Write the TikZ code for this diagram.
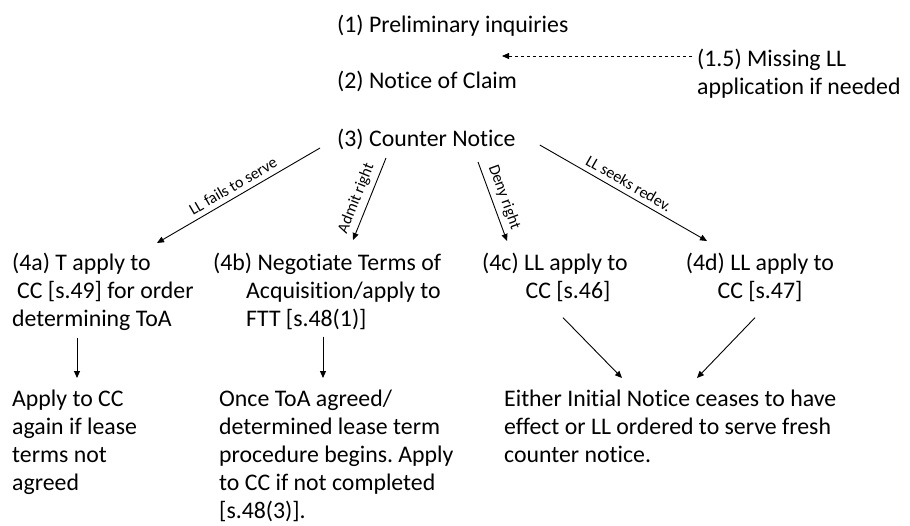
\documentclass[tikz,border=0pt]{standalone}
\usepackage{fontspec}
\setmainfont{Carlito}[Ligatures=CommonOff]
\usetikzlibrary{arrows.meta}
\frenchspacing

\tikzset{
    stage/.style={font=\fontsize{23.8}{28}\selectfont, inner sep=0pt, align=left, anchor=north west},
    edgelabel/.style={font=\fontsize{16}{19}\selectfont, sloped, above=4pt, inner sep=1pt},
    arr/.style={-{Triangle[length=7pt,width=6pt]}, line width=0.9pt}
}

\begin{document}
\begin{tikzpicture}[x=1pt,y=1pt]
            \useasboundingbox (0,0) rectangle (910,-525);

            % steps 1 to 3
            \node[stage, anchor=base west] (prelim) at (337,-32) {(1) Preliminary inquiries};
            \node[stage, anchor=base west] (claim) at (337,-88) {(2) Notice of Claim};
            \node[stage, anchor=base west] (counter) at (337,-146) {(3) Counter Notice};
            \node[stage] (missing) at (697,-46.4) {\strut(1.5) Missing LL\\application if needed};

            \coordinate (gap) at (502,-56);
            \draw[arr, line width=0.8pt, dash pattern=on 3.5pt off 2.5pt] ([xshift=-5pt,yshift=-9.6pt]missing.north west) -- (gap);

            % step 4
            \node[stage] (ta) at (12,-250.4) {\strut(4a) T apply to\\\hspace*{5pt}CC [s.49] for order\\determining ToA};
            \node[stage] (tb) at (213,-250.4) {\strut(4b) Negotiate Terms of\\\hspace*{33pt}Acquisition/apply to\\\hspace*{33pt}FTT [s.48(1)]};
            \node[stage, anchor=north, align=center] (tc) at (555,-250.4) {\strut(4c) LL apply to\\\hspace*{26pt}CC [s.46]};
            \node[stage, anchor=north, align=center] (td) at (760,-250.4) {\strut(4d) LL apply to\\CC [s.47]};

            \draw[arr] ([xshift=-17pt,yshift=-2pt]counter.base west) -- node[edgelabel] {LL fails to serve} ([xshift=145pt,yshift=7.4pt]ta.north west);
            \draw[arr] ([xshift=49pt,yshift=-12pt]counter.base west) -- node[edgelabel, pos=0.55] {Admit right} ([xshift=140pt,yshift=10.4pt]tb.north west);
            \draw[arr] ([xshift=141pt,yshift=-16pt]counter.base west) -- node[edgelabel] {Deny right} ([xshift=-48pt,yshift=9.4pt]tc.north);
            \draw[arr] ([xshift=24pt,yshift=1pt]counter.base east) -- node[edgelabel] {LL seeks redev.} ([xshift=-53pt,yshift=9.4pt]td.north);

            % results
            \node[stage] (ra) at (12,-386.4) {\strut Apply to CC\\again if lease\\terms not\\agreed};
            \node[stage] (rb) at (219,-386.4) {\strut Once ToA agreed/\\determined lease term\\procedure begins. Apply\\to CC if not completed\\{[s.48(3)].}};
            \node[stage] (rc) at (504,-386.4) {\strut Either Initial Notice ceases to have\\effect or LL ordered to serve fresh\\counter notice.};

            \draw[arr] ([xshift=65pt,yshift=-8pt]ta.south west) -- ([xshift=65pt,yshift=8.4pt]ra.north west);
            \draw[arr] ([xshift=110pt,yshift=-7pt]tb.south west) -- ([xshift=104pt,yshift=8.4pt]rb.north west);
            \draw[arr] ([xshift=8pt,yshift=-16pt]tc.south) -- ([xshift=118pt,yshift=8.4pt]rc.north west);
            \draw[arr] ([xshift=-5pt,yshift=-16pt]td.south) -- ([xshift=193pt,yshift=8.4pt]rc.north west);
        \end{tikzpicture}
\end{document}
